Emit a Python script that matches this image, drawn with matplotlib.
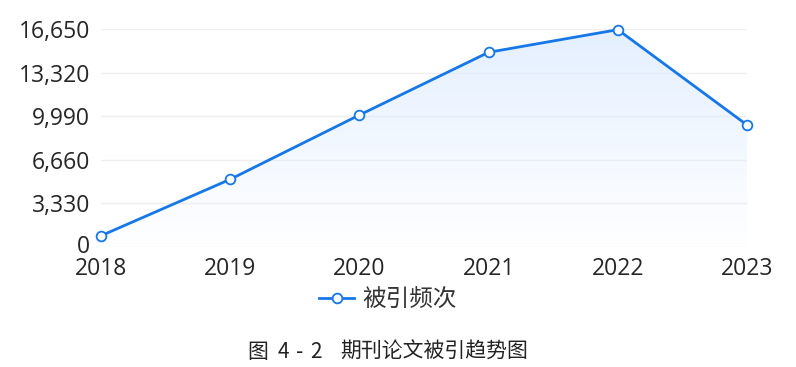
import numpy as np
import matplotlib.pyplot as plt
from matplotlib.ticker import FuncFormatter
from matplotlib.transforms import ScaledTranslation

plt.rcParams['font.family'] = ['Open Sans', 'Noto Sans CJK SC', 'DejaVu Sans']

years = ['2018', '2019', '2020', '2021', '2022', '2023']
citations = [860, 5170, 10080, 14870, 16600, 9320]
yticks = [0, 3330, 6660, 9990, 13320, 16650]
series_name = '被引频次'
caption_parts = ['图', '4', '-', '2', '期刊论文被引趋势图']
caption_x = [247, 278, 296, 310, 340]

line_color = '#1677e8'

fig = plt.figure(figsize=(7.96, 3.67), dpi=100)
ax = fig.add_axes([101 / 796, 1 - 247 / 367, 646 / 796, 218 / 367])

x = np.arange(len(years))
ax.set_xlim(x[0], x[-1])
ax.set_ylim(0, yticks[-1])

# gradient fill under the line
grad = np.linspace(0, 1, 256).reshape(-1, 1)
rgba = np.zeros((256, 1, 4))
rgba[..., 0] = 0.86
rgba[..., 1] = 0.92
rgba[..., 2] = 1.0
rgba[..., 3] = grad * 0.75
img = ax.imshow(rgba, extent=[x[0], x[-1], 0, yticks[-1]], origin='lower',
                aspect='auto', zorder=1)
poly = ax.fill_between(x, citations, 0, color='none', lw=0)
img.set_clip_path(poly.get_paths()[0], transform=ax.transData)

ax.plot(x, citations, color=line_color, lw=2, marker='o', markersize=7,
        markerfacecolor='white', markeredgecolor=line_color, markeredgewidth=1.3,
        zorder=3, label=series_name, clip_on=False)

for yv in yticks:
    ax.axhline(yv, color='#efefef', lw=1, zorder=0)

ax.set_yticks(yticks)
ax.yaxis.set_major_formatter(FuncFormatter(lambda v, p: f'{int(v):,}'))
ax.set_xticks(x)
ax.set_xticklabels(years)
for s in ax.spines.values():
    s.set_visible(False)
ax.tick_params(axis='both', length=0, labelsize=16.5, colors='#262626')
ax.tick_params(axis='y', pad=8)
ax.tick_params(axis='x', pad=7)

# lift the "0" label a little so it clears "2018"
zero_lbl = ax.yaxis.get_major_ticks()[0].label1
zero_lbl.set_transform(zero_lbl.get_transform() + ScaledTranslation(0, 3 / 100, fig.dpi_scale_trans))

fig.legend(loc='center', bbox_to_anchor=(388 / 796, 1 - 300 / 367), frameon=False,
           prop={'family': ['Noto Sans CJK SC'], 'size': 17},
           handlelength=1.5, handletextpad=0.35, labelcolor='#333333')

for txt, px in zip(caption_parts, caption_x):
    fig.text(px / 796, 1 - 352 / 367, txt, ha='left', va='center',
             fontsize=15, color='#222222', family=['Noto Sans CJK SC'])

fig.savefig('out.png', dpi=100)
